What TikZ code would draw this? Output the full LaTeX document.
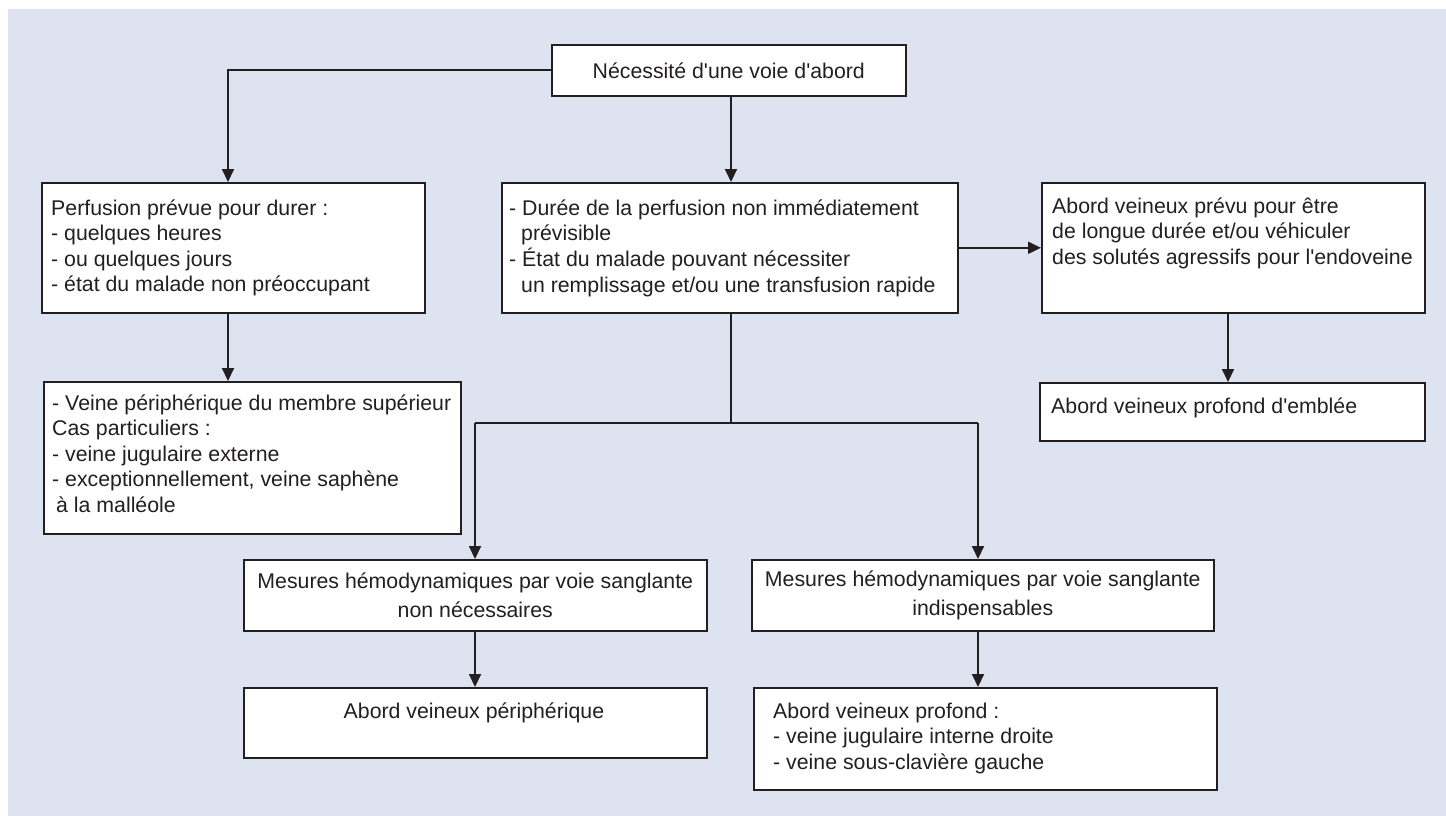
\documentclass[tikz,border=0pt]{standalone}
\usepackage{fontspec}
\setmainfont{Liberation Sans}[Ligatures=TeXOff]
\usetikzlibrary{arrows.meta}
\definecolor{bg}{RGB}{222,227,242}
\definecolor{ink}{RGB}{35,31,32}
\newcommand{\tl}[1]{\begin{tabular}[t]{@{}l@{}}#1\end{tabular}}
\begin{document}
\begin{tikzpicture}[x=1pt,y=-1pt,
  boxnode/.style={draw=ink, line width=1.6pt, fill=white, rectangle, inner sep=0pt, anchor=north west, text=ink, font=\fontsize{21.3}{25.5}\selectfont},
  txt/.style={text=ink, font=\fontsize{21.3}{25.5}\selectfont, inner sep=0pt, anchor=base west},
  conn/.style={draw=ink, line width=2pt},
  arr/.style={conn, -{Triangle[length=13pt,width=12pt]}}]
\useasboundingbox (0,0) rectangle (1446,816);
\fill[bg] (8,9) rectangle (1446,816);

% boxes
\node[boxnode, minimum width=354pt, minimum height=51pt] (T) at (551,44) {Nécessité d'une voie d'abord};
\node[boxnode, minimum width=383pt, minimum height=130pt] (B1) at (41,182) {};
\node[boxnode, minimum width=456pt, minimum height=130pt] (B2) at (501,182) {};
\node[boxnode, minimum width=383pt, minimum height=130pt] (B3) at (1041,182) {};
\node[boxnode, minimum width=385pt, minimum height=58pt] (B4) at (1039,382) {};
\node[boxnode, minimum width=417pt, minimum height=152pt] (B5) at (43,381) {};
\node[boxnode, minimum width=463pt, minimum height=71pt, align=center, font=\fontsize{21.3}{29.5}\selectfont] (B6) at (243,559) {Mesures hémodynamiques par voie sanglante\\non nécessaires};
\node[boxnode, minimum width=462pt, minimum height=71pt, align=center, font=\fontsize{21.3}{29.5}\selectfont] (B7) at (751,559) {Mesures hémodynamiques par voie sanglante\\indispensables};
\node[boxnode, minimum width=463pt, minimum height=70pt] (B8) at (243,687) {};
\node[boxnode, minimum width=463pt, minimum height=102pt] (B9) at (753,687) {};

% texts
\node[txt] (t1) at (51,215) {\tl{Perfusion prévue pour durer :\\- quelques heures\\- ou quelques jours\\- état du malade non préoccupant}};
\node[txt] (t2) at (509,215) {\tl{- Durée de la perfusion non immédiatement\\\hspace*{12pt}prévisible\\- État du malade pouvant nécessiter\\\hspace*{12pt}un remplissage et/ou une transfusion rapide}};
\node[txt] (t3) at (1052,213) {\tl{Abord veineux prévu pour être\\de longue durée et/ou véhiculer\\des solutés agressifs pour l'endoveine}};
\node[txt] (t4) at (1051,413) {Abord veineux profond d'emblée};
\node[txt] (t5) at (52,410) {\tl{- Veine périphérique du membre supérieur\\Cas particuliers :\\- veine jugulaire externe\\- exceptionnellement, veine saphène\\\hspace*{4pt}à la malléole}};
\node[txt, anchor=base] (t8) at (474,718) {Abord veineux périphérique};
\node[txt] (t9) at (773,718) {\tl{Abord veineux profond :\\- veine jugulaire interne droite\\- veine sous-clavière gauche}};

% connectors
\coordinate (c1) at (228,70);
\coordinate (m) at (731,423);
\coordinate (jl) at (475,423);
\coordinate (jr) at (978,423);
\coordinate (c3) at (1228,312);

\draw[arr] (T.west |- c1) -- (c1) -- (c1 |- B1.north);
\draw[arr] (T.south -| m) -- (B2.north -| m);
\draw[arr] (B1.south -| c1) -- (B5.north -| c1);
\draw[arr] (B2.east) -- (B3.west);
\draw[arr] (B3.south -| c3) -- (B4.north -| c3);
\draw[conn] (B2.south -| m) -- (m);
\draw[conn] (jl) -- (jr);
\draw[arr] (jl) -- (jl |- B6.north);
\draw[arr] (jr) -- (jr |- B7.north);
\draw[arr] (B6.south -| jl) -- (B8.north -| jl);
\draw[arr] (B7.south -| jr) -- (B9.north -| jr);
\end{tikzpicture}
\end{document}
